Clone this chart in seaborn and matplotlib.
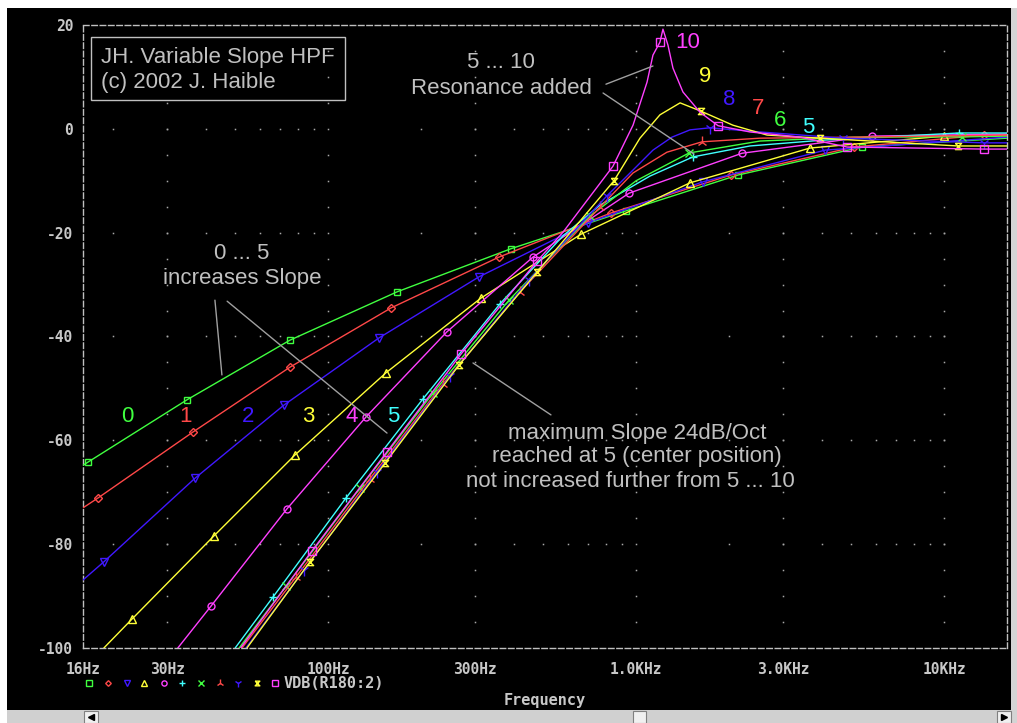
import matplotlib
matplotlib.use("Agg")
import matplotlib.pyplot as plt
import seaborn as sns
from matplotlib.path import Path
from matplotlib.lines import Line2D
from matplotlib.patches import Rectangle

# VDB(R180:2) versus frequency, one trace per control position 0 ... 10
freq_0 = [16, 16.6, 34.8, 75.2, 167.4, 392, 927, 2141, 5410, 16000]
vdb_0 = [-64.8, -64.2, -52.2, -40.7, -31.4, -23.1, -15.8, -8.9, -3.5, -1.8]
mark_0 = [1, 2, 3, 4, 5, 6, 7, 8]

freq_1 = [16, 17.9, 36.4, 75.2, 160, 358.7, 829, 2032, 5098, 13470, 16000]
vdb_1 = [-73.0, -71.1, -58.4, -45.9, -34.5, -24.7, -16.2, -8.9, -3.5, -1.2, -1.1]
mark_1 = [1, 2, 3, 4, 5, 6, 7, 8, 9]

freq_2 = [16, 18.7, 36.96, 71.9, 146, 309, 698, 1648, 4106, 16000]
vdb_2 = [-86.9, -83.4, -67.3, -53.2, -40.3, -28.5, -18.1, -10.2, -4.1, -1.6]
mark_2 = [1, 2, 3, 4, 5, 6, 7, 8]

freq_3 = [18.7, 23.1, 42.6, 78.1, 154, 313.5, 662, 1496, 3669, 10000, 16000]
vdb_3 = [-100, -94.4, -78.4, -62.8, -47.0, -32.6, -20.3, -10.4, -3.7, -1.4, -1.2]
mark_3 = [1, 2, 3, 4, 5, 6, 7, 8, 9]

freq_4 = [32.5, 41.7, 73.5, 132.7, 243, 462.5, 948, 2207, 5832, 16000]
vdb_4 = [-100, -91.9, -73.2, -55.5, -39.1, -24.7, -12.4, -4.7, -1.4, -1.0]
mark_4 = [1, 2, 3, 4, 5, 6, 7, 8]

freq_5 = [49.9, 66.2, 114.3, 203.3, 361.5, 579, 763, 1109, 1530, 2342, 3990, 7190, 11170, 16000]
vdb_5 = [-100, -90.2, -71.1, -52.0, -33.7, -20.6, -14.7, -9.1, -5.4, -3.3, -2.2, -1.4, -0.8, -0.8]
mark_5 = [1, 2, 3, 4, 8, 12]

freq_6 = [51.4, 73, 126.9, 219, 386.6, 708.6, 1000, 1485, 2525, 5100, 11432, 16000]
vdb_6 = [-100, -88.1, -69.2, -50.9, -33.0, -16.8, -10.0, -4.65, -2.35, -1.6, -1.55, -1.4]
mark_6 = [1, 2, 3, 4, 5, 7, 10]

freq_7 = [52.5, 78.7, 136.7, 236, 419.7, 763, 977, 1259, 1637, 2525, 5100, 16000]
vdb_7 = [-100, -86.3, -67.4, -49.1, -31.4, -15.1, -8.5, -4.5, -2.5, -1.8, -1.6, -1.2]
mark_7 = [1, 2, 3, 4, 5, 8]

freq_8 = [54.1, 83.5, 144.1, 248.7, 449, 804, 941, 1134, 1307, 1496, 1737, 2525, 4694, 13470, 16000]
vdb_8 = [-100, -85.0, -66.1, -47.6, -29.1, -12.9, -8.9, -4.1, -1.6, -0.2, 0.2, -0.6, -1.8, -2.7, -2.7]
mark_8 = [1, 2, 3, 4, 5, 10, 12, 13]

freq_9 = [54.5, 87.3, 153, 266, 476.6, 847.5, 1029, 1195, 1389, 1624, 2062, 2661, 3954, 11093, 16000]
vdb_9 = [-100, -83.4, -64.4, -45.5, -27.6, -10.0, -1.8, 2.7, 5.0, 3.4, 0.7, -1.2, -1.8, -3.3, -3.3]
mark_9 = [1, 2, 3, 4, 5, 9, 12, 13]

freq_10 = [52, 88.6, 155.3, 270, 476.6, 579, 841, 977, 1085, 1134, 1195, 1222, 1269, 1317,
           1419, 1612, 1845, 2342, 3405, 4838, 13470, 16000]
vdb_10 = [-100, -81.3, -62.2, -43.4, -25.5, -19.9, -7.2, 0.7, 9.0, 14.2, 16.7, 19.2, 16.1, 11.7,
          7.1, 3.2, 0.6, -0.6, -1.6, -3.5, -3.9, -3.9]
mark_10 = [1, 2, 3, 4, 6, 10, 16, 19, 20]

x_ticks = [16, 30, 100, 300, 1000, 3000, 10000]
x_tick_labels = ["16Hz", "30Hz", "100Hz", "300Hz", "1.0KHz", "3.0KHz", "10KHz"]
y_ticks = [-100, -80, -60, -40, -20, 0, 20]
y_tick_labels = ["-100", "-80", "-60", "-40", "-20", "0", "20"]
position_labels = ["0", "1", "2", "3", "4", "5", "6", "7", "8", "9", "10"]

GREEN = "#40ff40"
RED = "#ff4848"
BLUE = "#4018ff"
YELLOW = "#ffff38"
MAGENTA = "#ff40ff"
CYAN = "#40ffff"
GREY = "#c0c0c0"
MONO = "DejaVu Sans Mono"

HOURGLASS = Path([(-1, 1), (1, 1), (-1, -1), (1, -1), (-1, 1)],
                 [Path.MOVETO, Path.LINETO, Path.LINETO, Path.LINETO, Path.LINETO])

sns.set_style("dark", {"axes.facecolor": "black", "figure.facecolor": "black"})
plt.rcParams["font.family"] = ["Liberation Sans", "DejaVu Sans"]

fig = plt.figure(figsize=(10.17, 7.23), dpi=100, facecolor="black")
ax = fig.add_axes([83 / 1017, 1 - 648 / 723, 924 / 1017, 623 / 723])
ax.set_facecolor("black")

ax.set_xscale("log")
ax.set_xlim(16, 16000)
ax.set_ylim(-100, 20)

# dotted grid: dots every 5 dB on the major frequency lines,
# dots at the minor log positions on the major dB lines
grid_kw = dict(ls="none", marker="s", ms=1.1, mew=0, color="#a8a8a8", zorder=1, clip_on=False)
for fx in x_ticks[1:]:
    ax.plot([fx] * 23, list(range(-95, 20, 5)), **grid_kw)
minor_x = [m * d for d in (10, 100, 1000) for m in range(2, 10)] + [10000]
minor_x = [v for v in minor_x if v > 16]
for gy in y_ticks[1:-1]:
    ax.plot(minor_x, [gy] * len(minor_x), **grid_kw)

traces = [(freq_0, vdb_0, mark_0), (freq_1, vdb_1, mark_1), (freq_2, vdb_2, mark_2),
          (freq_3, vdb_3, mark_3), (freq_4, vdb_4, mark_4), (freq_5, vdb_5, mark_5),
          (freq_6, vdb_6, mark_6), (freq_7, vdb_7, mark_7), (freq_8, vdb_8, mark_8),
          (freq_9, vdb_9, mark_9), (freq_10, vdb_10, mark_10)]
styles = [(GREEN, "s", 5), (RED, "D", 3.8), (BLUE, "v", 5.5), (YELLOW, "^", 5.5),
          (MAGENTA, "o", 5), (CYAN, "+", 6), (GREEN, "x", 5.5), (RED, "2", 8),
          (BLUE, "1", 8), (YELLOW, HOURGLASS, 4.5), (MAGENTA, "s", 5.5)]

for k, ((f, v, m), (c, mk, ms)) in enumerate(zip(traces, styles)):
    sns.lineplot(x=f, y=v, ax=ax, color=c, linewidth=1.0, marker=mk, markevery=m,
                 markersize=ms, markerfacecolor="none", markeredgecolor=c,
                 markeredgewidth=1.0, sort=False, estimator=None, legend=False,
                 zorder=3 + k)

ax.set_xlabel("")
ax.set_ylabel("")
ax.minorticks_off()
ax.set_xticks(x_ticks)
ax.set_xticklabels(x_tick_labels)
ax.set_yticks(y_ticks)
ax.set_yticklabels(y_tick_labels)
ax.tick_params(axis="both", which="both", direction="out", color=GREY, width=1,
               labelcolor="#c8c8c8", labelsize=10.5)
ax.tick_params(axis="y", length=5, pad=2)
ax.tick_params(axis="x", length=4, pad=6)
for lab in ax.get_xticklabels() + ax.get_yticklabels():
    lab.set_fontfamily(MONO)
    lab.set_fontweight("bold")
ax.grid(False)
for sp in ax.spines.values():
    sp.set_visible(True)
    sp.set_color(GREY)
    sp.set_linewidth(1.0)
    sp.set_linestyle((0, (4, 2)))

# position numbers beside the traces
num_pos = [(0.0476, 0.3708), (0.1104, 0.3708), (0.1786, 0.3708), (0.2435, 0.3708),
           (0.2911, 0.3708), (0.3355, 0.3708), (0.7543, 0.8475), (0.7305, 0.8652),
           (0.6991, 0.8812), (0.6732, 0.9181), (0.6548, 0.9727)]
num_col = [GREEN, RED, BLUE, YELLOW, MAGENTA, CYAN, GREEN, RED, BLUE, YELLOW, MAGENTA]
for lab, (px, py), c in zip(position_labels, num_pos, num_col):
    ax.text(px, py, lab, transform=ax.transAxes, color=c, fontsize=16,
            ha="center", va="center", zorder=20)
ax.text(0.7846, 0.8347, "5", transform=ax.transAxes, color=CYAN, fontsize=16,
        ha="center", va="center", zorder=20)

# title box
ax.add_patch(Rectangle((0.00866, 0.8796), 0.2749, 0.1011, transform=ax.transAxes,
                       fill=False, edgecolor=GREY, linewidth=1.0, zorder=20))
note_kw = dict(transform=ax.transAxes, color=GREY, fontsize=16, va="center", zorder=20)
ax.text(0.0195, 0.9486, "JH. Variable Slope HPF", ha="left", **note_kw)
ax.text(0.0195, 0.9085, "(c) 2002 J. Haible", ha="left", **note_kw)
ax.text(0.4524, 0.9406, "5 ... 10", ha="center", **note_kw)
ax.text(0.4524, 0.8973, "Resonance added", ha="center", **note_kw)
ax.text(0.1721, 0.6340, "0 ... 5", ha="center", **note_kw)
ax.text(0.1721, 0.5923, "increases Slope", ha="center", **note_kw)
ax.text(0.5996, 0.3451, "maximum Slope 24dB/Oct", ha="center", **note_kw)
ax.text(0.5996, 0.3066, "reached at 5 (center position)", ha="center", **note_kw)
ax.text(0.5920, 0.2665, "not increased further from 5 ... 10", ha="center", **note_kw)

# callout lines
callouts = [((798, 8.6), (1134, 12.1)), ((781, 6.9), (1541, -4.85)),
            ((42.9, -33.0), (45.2, -47.4)), ((47.0, -33.2), (155.3, -58.6)),
            ((295.4, -45.1), (529, -55.1))]
for (x0, y0), (x1, y1) in callouts:
    ax.annotate("", xy=(x1, y1), xytext=(x0, y0),
                arrowprops=dict(arrowstyle="-", color="#a0a0a0", lw=1.0,
                                shrinkA=0, shrinkB=0), zorder=15)

# trace symbol row and axis title
sym_x = [89, 108, 127, 144, 164, 182, 201, 220, 238, 257, 275]
for (c, mk, ms), sx in zip(styles, sym_x):
    fig.add_artist(Line2D([sx / 1017], [1 - 683 / 723], transform=fig.transFigure,
                          ls="none", marker=mk, markersize=ms * 0.75, markerfacecolor="none",
                          markeredgecolor=c, markeredgewidth=1.0))
fig.text(284 / 1017, 1 - 683 / 723, "VDB(R180:2)", color="#c8c8c8", fontsize=11,
         family=MONO, weight="bold", ha="left", va="center")
fig.text(545 / 1017, 1 - 701 / 723, "Frequency", color="#c8c8c8", fontsize=11,
         family=MONO, weight="bold", ha="center", va="center")

# window frame: top/left edges and scroll bars
fig.add_artist(Rectangle((0, 1 - 8 / 723), 1, 8 / 723, transform=fig.transFigure,
                         facecolor="white", edgecolor="none"))
fig.add_artist(Rectangle((0, 0), 7 / 1017, 1, transform=fig.transFigure,
                         facecolor="white", edgecolor="none"))
fig.add_artist(Rectangle((1011 / 1017, 0), 6 / 1017, 1 - 8 / 723, transform=fig.transFigure,
                         facecolor="#d4d4d4", edgecolor="none"))
fig.add_artist(Rectangle((7 / 1017, 0), 1004 / 1017, 13 / 723, transform=fig.transFigure,
                         facecolor="#d0d0d0", edgecolor="none"))
for bx in (84, 997):
    fig.add_artist(Rectangle((bx / 1017, 0), 14 / 1017, 12 / 723, transform=fig.transFigure,
                             facecolor="#f0f0f0", edgecolor="#808080", linewidth=0.8))
fig.add_artist(Rectangle((633 / 1017, 0), 13 / 1017, 12 / 723, transform=fig.transFigure,
                         facecolor="#f0f0f0", edgecolor="#808080", linewidth=0.8))
fig.add_artist(Line2D([91 / 1017], [6 / 723], transform=fig.transFigure, ls="none",
                      marker="<", markersize=4, color="black"))
fig.add_artist(Line2D([1004 / 1017], [6 / 723], transform=fig.transFigure, ls="none",
                      marker=">", markersize=4, color="black"))

fig.savefig("out.png", dpi=100, facecolor=fig.get_facecolor())
